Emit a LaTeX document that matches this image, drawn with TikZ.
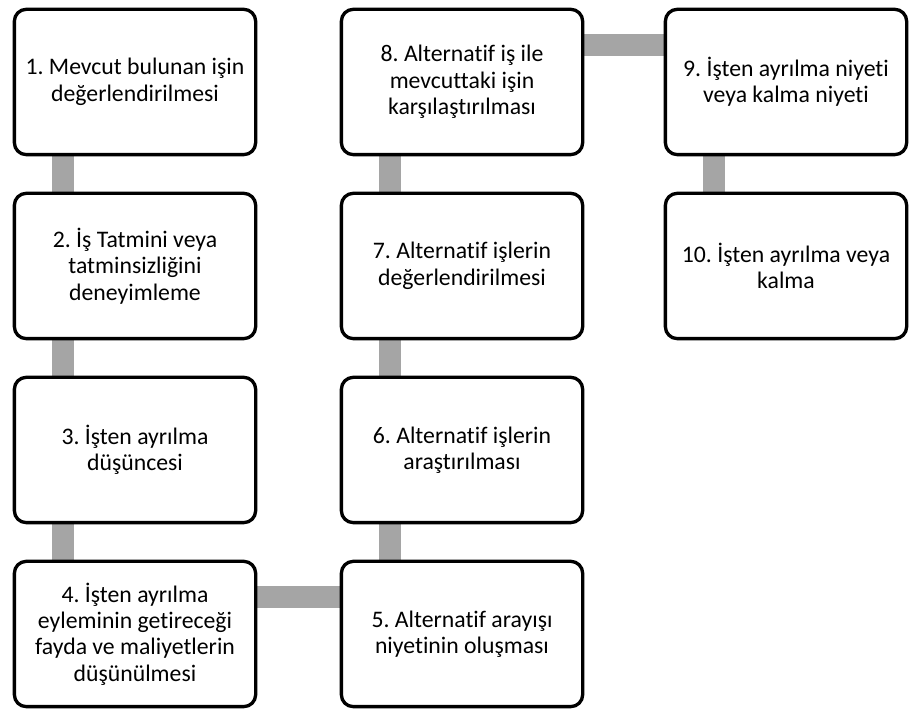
\documentclass[tikz,border=0pt]{standalone}
\usepackage{fontspec}
\setmainfont{Carlito}[Ligatures=NoCommon]
\usetikzlibrary{backgrounds}
\definecolor{bargray}{HTML}{A5A5A5}
\frenchspacing
\tikzset{
  stepbox/.style={draw=black, line width=2.5pt, rounded corners=9pt, fill=white,
    minimum width=181pt, minimum height=109pt, align=center,
    font=\fontsize{17.8}{19.8}\selectfont, inner sep=4pt},
  bar/.style={draw=bargray, line width=16.5pt}
}
\begin{document}
\begin{tikzpicture}[x=0.75pt,y=0.75pt]
    \useasboundingbox (0,0) rectangle (909,709);
    %draw boxes
    \node[stepbox] (b1) at (135,627) {1. Mevcut bulunan işin\\değerlendirilmesi};
    \node[stepbox] (b2) at (135,443) {2. İş Tatmini veya\\tatminsizliğini\\deneyimleme};
    \node[stepbox] (b3) at (135,259) {3. İşten ayrılma\\düşüncesi};
    \node[stepbox] (b4) at (135,75) {4. İşten ayrılma\\eyleminin getireceği\\fayda ve maliyetlerin\\düşünülmesi};
    \node[stepbox] (b5) at (462,75) {5. Alternatif arayışı\\niyetinin oluşması};
    \node[stepbox] (b6) at (462,259) {6. Alternatif işlerin\\araştırılması};
    \node[stepbox] (b7) at (462,443) {7. Alternatif işlerin\\değerlendirilmesi};
    \node[stepbox] (b8) at (462,627) {8. Alternatif iş ile\\mevcuttaki işin\\karşılaştırılması};
    \node[stepbox] (b9) at (786,627) {9. İşten ayrılma niyeti\\veya kalma niyeti};
    \node[stepbox] (b10) at (786,443) {10. İşten ayrılma veya\\kalma};
    %draw bars
    \begin{scope}[on background layer]
    \draw[bar] ([xshift=37.5pt]b1.south west) -- ([xshift=37.5pt]b2.north west);
    \draw[bar] ([xshift=37.5pt]b2.south west) -- ([xshift=37.5pt]b3.north west);
    \draw[bar] ([xshift=37.5pt]b3.south west) -- ([xshift=37.5pt]b4.north west);
    \draw[bar] ([yshift=27.75pt]b4.east) -- ([yshift=27.75pt]b5.west);
    \draw[bar] ([xshift=37.5pt]b5.north west) -- ([xshift=37.5pt]b6.south west);
    \draw[bar] ([xshift=37.5pt]b6.north west) -- ([xshift=37.5pt]b7.south west);
    \draw[bar] ([xshift=37.5pt]b7.north west) -- ([xshift=37.5pt]b8.south west);
    \draw[bar] ([yshift=27.75pt]b8.east) -- ([yshift=27.75pt]b9.west);
    \draw[bar] ([xshift=37.5pt]b9.south west) -- ([xshift=37.5pt]b10.north west);
    \end{scope}
\end{tikzpicture}
\end{document}
